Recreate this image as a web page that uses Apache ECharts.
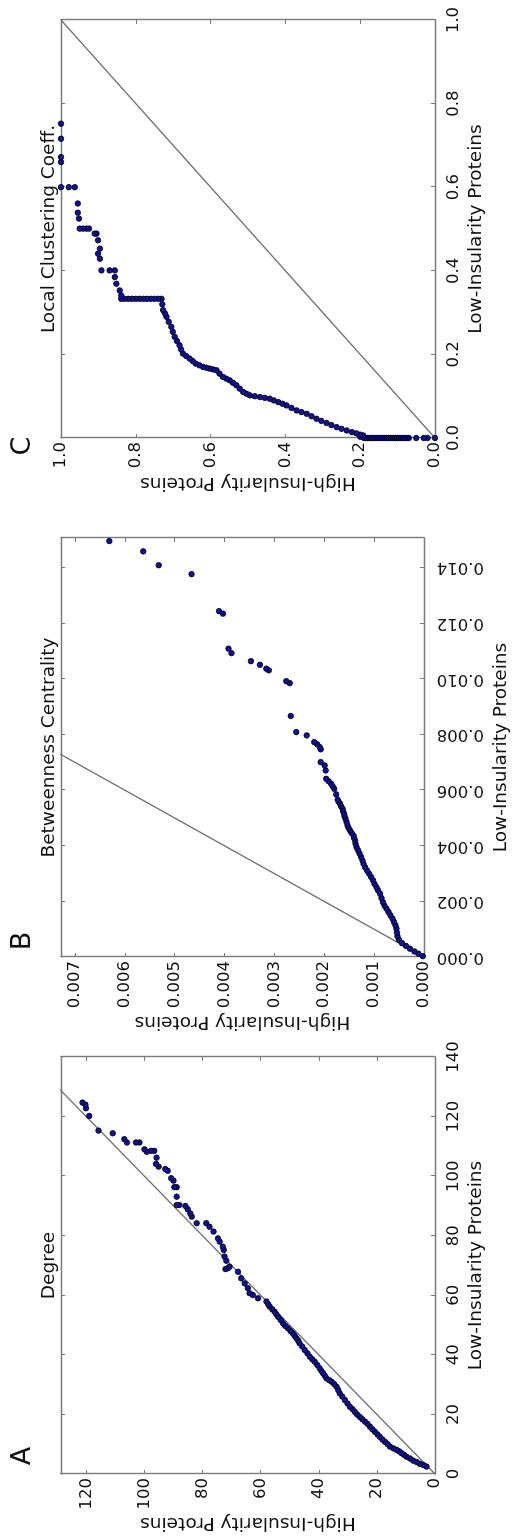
<!DOCTYPE html>
<html>
<head>
<meta charset="utf-8">
<script src="https://cdn.jsdelivr.net/npm/echarts@6/dist/echarts.min.js"></script>
<style>
  html, body { margin: 0; padding: 0; width: 516px; height: 1539px; overflow: hidden; background: #fff; }
  /* the figure is drawn landscape and turned a quarter turn counter-clockwise */
  #chart { position: absolute; left: 0; top: 1539px; width: 1539px; height: 516px;
           transform-origin: 0 0; transform: rotate(-90deg); }
</style>
</head>
<body>
<div id="chart"></div>
<script>
(function () {
  'use strict';

  // [low-insularity value, high-insularity value]
  var degreePoints = [
    [2.5, 2.9], [3.0, 4.0], [3.4, 5.2], [4.0, 6.3], [4.5, 7.5], [5.2, 8.6], [5.8, 9.8], [6.4, 10.6],
    [7.0, 11.5], [7.6, 12.3], [8.1, 13.2], [8.6, 14.3], [9.2, 15.5], [10.0, 16.3], [10.8, 17.2],
    [11.6, 18.1], [12.5, 19.0], [13.3, 19.8], [14.2, 20.7], [15.0, 21.5], [15.9, 22.4], [16.8, 23.2],
    [17.6, 24.1], [18.4, 25.0], [19.2, 25.9], [20.0, 26.8], [20.9, 27.6], [21.8, 28.4], [22.6, 29.3],
    [23.7, 30.1], [24.8, 31.0], [26.0, 31.9], [27.1, 32.8], [28.2, 33.3], [29.3, 33.9], [30.2, 34.7],
    [31.0, 35.6], [31.5, 36.4], [32.1, 37.3], [33.0, 37.9], [33.8, 38.5], [34.6, 39.1], [35.5, 39.7],
    [36.6, 40.5], [37.7, 41.4], [38.5, 42.2], [39.4, 43.1], [40.5, 43.9], [41.6, 44.8], [42.8, 45.7],
    [43.9, 46.6], [44.8, 47.1], [45.6, 47.7], [46.4, 48.3], [47.2, 48.9], [48.0, 49.7], [48.9, 50.6],
    [49.7, 51.5], [50.6, 52.3], [51.7, 53.1], [52.8, 54.0], [53.6, 54.6], [54.5, 55.2], [55.3, 56.0],
    [56.2, 56.9], [57.0, 57.4], [57.9, 58.0], [59.0, 60.9], [60.1, 62.7], [60.7, 63.8], [62.4, 64.4],
    [64.0, 65.5], [65.7, 66.7], [67.9, 67.8], [68.8, 72.1], [69.1, 71.3], [69.6, 70.7], [71.6, 71.8],
    [73.0, 72.4], [75.2, 72.7], [76.3, 73.0], [78.0, 74.1], [79.1, 74.7], [81.4, 76.2], [83.0, 77.6],
    [84.2, 78.7], [84.2, 82.0], [86.4, 83.7], [87.5, 84.2], [88.9, 85.1], [90.0, 85.9], [90.3, 88.0],
    [90.3, 88.9], [93.1, 88.9], [96.3, 88.9], [96.3, 89.7], [98.5, 90.0], [99.3, 90.8], [101.8, 92.0],
    [102.4, 92.8], [103.2, 95.1], [104.1, 96.0], [106.2, 95.8], [108.5, 96.6], [108.5, 97.7],
    [108.2, 99.2], [109.0, 100.0], [111.3, 101.7], [111.3, 102.9], [111.3, 106.0], [112.4, 106.9],
    [114.4, 110.9], [115.3, 115.8], [120.2, 119.0], [122.8, 120.1], [124.0, 120.3], [124.7, 121.3]
  ];

  var betweennessPoints = [
    [0.00003, 0.00002], [0.00012, 0.00011], [0.00020, 0.00019], [0.00030, 0.00028], [0.00040, 0.00036],
    [0.00050, 0.00044], [0.00062, 0.00050], [0.00075, 0.00053], [0.00088, 0.00054], [0.00102, 0.00055],
    [0.00114, 0.00057], [0.00126, 0.00060], [0.00138, 0.00063], [0.00150, 0.00067], [0.00162, 0.00071],
    [0.00174, 0.00075], [0.00185, 0.00079], [0.00197, 0.00082], [0.00212, 0.00085], [0.00228, 0.00088],
    [0.00240, 0.00092], [0.00251, 0.00095], [0.00263, 0.00099], [0.00276, 0.00102], [0.00288, 0.00106],
    [0.00300, 0.00110], [0.00311, 0.00114], [0.00323, 0.00118], [0.00335, 0.00121], [0.00347, 0.00123],
    [0.00360, 0.00126], [0.00372, 0.00129], [0.00384, 0.00132], [0.00395, 0.00135], [0.00407, 0.00137],
    [0.00419, 0.00138], [0.00428, 0.00140], [0.00437, 0.00141], [0.00446, 0.00145], [0.00455, 0.00148],
    [0.00464, 0.00151], [0.00473, 0.00153], [0.00485, 0.00155], [0.00497, 0.00157], [0.00506, 0.00159],
    [0.00515, 0.00160], [0.00524, 0.00162], [0.00533, 0.00163], [0.00542, 0.00166], [0.00551, 0.00168],
    [0.00558, 0.00171], [0.00566, 0.00173], [0.00585, 0.00176], [0.00605, 0.00180], [0.00614, 0.00183],
    [0.00623, 0.00186], [0.00632, 0.00191], [0.00641, 0.00196], [0.00671, 0.00197], [0.00689, 0.00199],
    [0.00701, 0.00207], [0.00747, 0.00207], [0.00755, 0.00209], [0.00765, 0.00214], [0.00773, 0.00220],
    [0.00797, 0.00235], [0.00809, 0.00256], [0.00867, 0.00267], [0.00985, 0.00269], [0.00992, 0.00276],
    [0.01031, 0.00311], [0.01037, 0.00316], [0.01051, 0.00329], [0.01064, 0.00347], [0.01093, 0.00386],
    [0.01109, 0.00392], [0.01235, 0.00403], [0.01244, 0.00411], [0.01377, 0.00466], [0.01409, 0.00532],
    [0.01459, 0.00563], [0.01496, 0.00631]
  ];

  var clusteringPoints = [
    [0.0, 0.0], [0.0, 0.02], [0.0, 0.03], [0.0, 0.05], [0.0, 0.07], [0.0, 0.075], [0.0, 0.08], [0.0, 0.085],
    [0.0, 0.09], [0.0, 0.095], [0.0, 0.10], [0.0, 0.105], [0.0, 0.11], [0.0, 0.115], [0.0, 0.12], [0.0, 0.125],
    [0.0, 0.13], [0.0, 0.135], [0.0, 0.14], [0.0, 0.145], [0.0, 0.15], [0.0, 0.155], [0.0, 0.16], [0.0, 0.165],
    [0.0, 0.17], [0.0, 0.175], [0.0, 0.18], [0.0, 0.185], [0.0, 0.19], [0.003, 0.20], [0.006, 0.192],
    [0.008, 0.20], [0.011, 0.210], [0.014, 0.222], [0.018, 0.236], [0.022, 0.250], [0.026, 0.263],
    [0.031, 0.277], [0.036, 0.290], [0.041, 0.304], [0.046, 0.317], [0.052, 0.330], [0.058, 0.343],
    [0.062, 0.357], [0.066, 0.370], [0.072, 0.384], [0.078, 0.397], [0.082, 0.408], [0.086, 0.419],
    [0.090, 0.431], [0.094, 0.442], [0.096, 0.455], [0.098, 0.468], [0.100, 0.482], [0.102, 0.495],
    [0.106, 0.504], [0.110, 0.513], [0.118, 0.522], [0.126, 0.531], [0.132, 0.540], [0.138, 0.549],
    [0.142, 0.558], [0.146, 0.567], [0.154, 0.576], [0.162, 0.584], [0.164, 0.593], [0.166, 0.602],
    [0.168, 0.611], [0.170, 0.620], [0.174, 0.630], [0.178, 0.640], [0.184, 0.648], [0.190, 0.656],
    [0.196, 0.665], [0.202, 0.674], [0.212, 0.679], [0.222, 0.683], [0.232, 0.690], [0.242, 0.696],
    [0.254, 0.701], [0.266, 0.705], [0.278, 0.712], [0.290, 0.718], [0.298, 0.722], [0.306, 0.727],
    [0.320, 0.729], [0.333, 0.731], [0.333, 0.740], [0.333, 0.750], [0.333, 0.760], [0.333, 0.770],
    [0.333, 0.780], [0.333, 0.790], [0.333, 0.800], [0.333, 0.810], [0.333, 0.820], [0.333, 0.830],
    [0.333, 0.839], [0.341, 0.839], [0.353, 0.843], [0.369, 0.852], [0.385, 0.856], [0.401, 0.856],
    [0.401, 0.870], [0.401, 0.892], [0.429, 0.896], [0.441, 0.901], [0.453, 0.896], [0.473, 0.901],
    [0.489, 0.905], [0.489, 0.910], [0.501, 0.925], [0.501, 0.932], [0.501, 0.941], [0.501, 0.950],
    [0.525, 0.952], [0.539, 0.955], [0.561, 0.955], [0.600, 0.963], [0.600, 0.979], [0.600, 1.0],
    [0.660, 1.0], [0.672, 1.0], [0.716, 1.0], [0.752, 1.0]
  ];

  var panelTitles = ['Degree', 'Betweenness Centrality', 'Local Clustering Coeff.'];
  var panelLetters = ['A', 'B', 'C'];
  var xTitle = 'Low-Insularity Proteins';
  var yTitle = 'High-Insularity Proteins';

  var FONT = 'DejaVu Sans';
  var FRAME = '#7a7a7a';

  // layout of each panel, in the unrotated (landscape) figure
  var panels = [
    { data: degreePoints, left: 65, width: 417, xMax: 140, xStep: 20, yMax: 128.7, yStep: 20,
      digits: 0, xRotate: 0, xGap: 25, yGap: 37, letterX: 83 },
    { data: betweennessPoints, left: 582, width: 419, xMax: 0.01507, xStep: 0.002, yMax: 0.00728, yStep: 0.001,
      digits: 3, xRotate: 90, xGap: 59, yGap: 55, letterX: 598 },
    { data: clusteringPoints, left: 1101, width: 418, xMax: 1, xStep: 0.2, yMax: 1, yStep: 0.2,
      digits: 1, xRotate: 0, xGap: 26, yGap: 35, letterX: 1093 }
  ];
  var TOP = 61, HEIGHT = 374;

  function axis(p, i, kind, position, labelled) {
    var isX = kind === 'x';
    var a = {
      type: 'value',
      gridIndex: i,
      position: position,
      min: 0,
      max: isX ? p.xMax : p.yMax,
      interval: isX ? p.xStep : p.yStep,
      axisLine: { show: true, onZero: false, lineStyle: { color: FRAME, width: 1.4 } },
      axisTick: { show: true, inside: true, length: 4, lineStyle: { color: FRAME, width: 1 } },
      splitLine: { show: false },
      axisLabel: { show: false }
    };
    if (labelled) {
      a.axisLabel = {
        show: true,
        color: '#111',
        fontFamily: FONT,
        fontSize: 16.5,
        margin: isX ? (p.xRotate ? 13 : 10) : 4,
        rotate: isX ? p.xRotate : 0,
        showMaxLabel: isX ? p.xMax === p.xStep * Math.round(p.xMax / p.xStep) : p.yMax === 1,
        formatter: function (v) { return v.toFixed(p.digits); }
      };
      a.name = isX ? xTitle : yTitle;
      a.nameLocation = 'middle';
      a.nameGap = isX ? p.xGap : p.yGap;
      a.nameTextStyle = { color: '#111', fontFamily: FONT, fontSize: 18.5 };
    }
    return a;
  }

  var grid = [], xAxis = [], yAxis = [], series = [], title = [];
  panels.forEach(function (p, i) {
    grid.push({ left: p.left, top: TOP, width: p.width, height: HEIGHT });
    xAxis.push(axis(p, i, 'x', 'bottom', true), axis(p, i, 'x', 'top', false));
    yAxis.push(axis(p, i, 'y', 'left', true), axis(p, i, 'y', 'right', false));

    var lim = Math.max(p.xMax, p.yMax);
    series.push({
      type: 'line', xAxisIndex: 2 * i, yAxisIndex: 2 * i, silent: true, clip: true,
      symbol: 'none', data: [[0, 0], [lim, lim]],
      lineStyle: { color: '#707070', width: 1.3 }, z: 1
    });
    series.push({
      type: 'scatter', xAxisIndex: 2 * i, yAxisIndex: 2 * i, silent: true, clip: false,
      symbolSize: 5.5, data: p.data,
      itemStyle: { color: '#10109a', borderColor: '#000', borderWidth: 0.8, opacity: 1 }, z: 2
    });

    title.push({
      text: panelTitles[i], left: p.left + p.width / 2, top: 40, textAlign: 'center', padding: 0,
      textStyle: { color: '#111', fontFamily: FONT, fontSize: 18.5, fontWeight: 'normal' }
    });
    title.push({
      text: panelLetters[i], left: p.letterX, top: 9, textAlign: 'center', padding: 0,
      textStyle: { color: '#111', fontFamily: FONT, fontSize: 27, fontWeight: 'normal' }
    });
  });

  var chart = echarts.init(document.getElementById('chart'), null, { renderer: 'canvas' });
  chart.setOption({
    animation: false,
    backgroundColor: '#fff',
    title: title,
    grid: grid,
    xAxis: xAxis,
    yAxis: yAxis,
    series: series
  });
})();
</script>
</body>
</html>
